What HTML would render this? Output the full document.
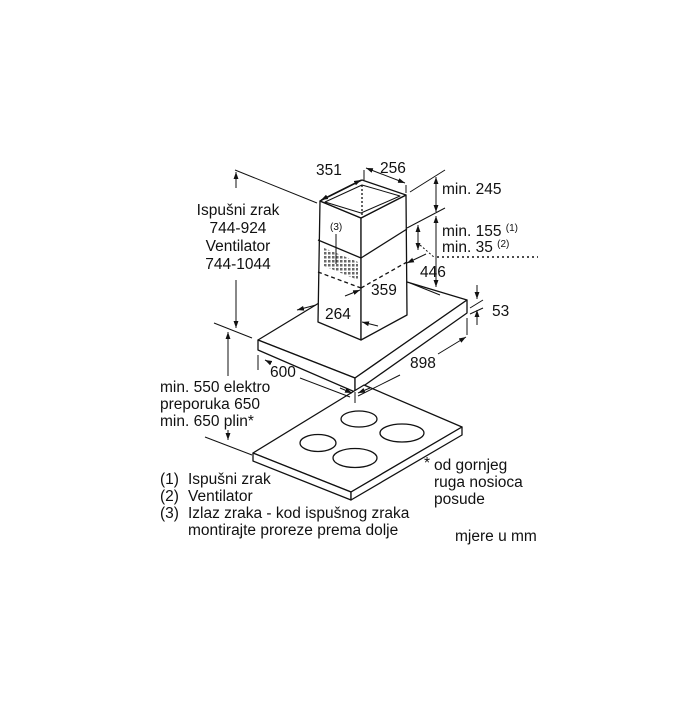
<!DOCTYPE html>
<html><head><meta charset="utf-8"><style>
body{margin:0;background:#fff;width:700px;height:700px;overflow:hidden}
svg text{font-family:"Liberation Sans",Arial,sans-serif;font-size:15.5px;fill:#111}
</style></head><body>
<svg width="700" height="700" viewBox="0 0 700 700" xmlns="http://www.w3.org/2000/svg">
<defs><marker id="a" viewBox="0 0 10 10" refX="10" refY="5" markerWidth="7" markerHeight="7" orient="auto-start-reverse"><path d="M0,1.5 L10,5 L0,8.5z" fill="#111"/></marker>
<pattern id="g" width="4" height="4" patternUnits="userSpaceOnUse"><rect width="4" height="4" fill="#fff"/><rect width="2.5" height="2.5" fill="#444"/></pattern></defs>
<g stroke="#111" stroke-width="1.3" fill="#fff" stroke-linejoin="round">
<polygon points="258,340 355,378 467,300 407,282 370,272 258,340"/>
<polygon points="258,340 355,378 355,392 258,350"/>
<polygon points="355,378 467,300 467,313 355,392"/>
<polygon points="320,201 361,218 361,340 318,322"/>
<polygon points="361,218 406,195 407,315 361,340"/>
<polygon points="320,201 362,180 406,195 361,218" fill="#fff"/>
<polygon points="325,202 362,185 400,196 361,213" fill="none" stroke-width="1"/>
<line x1="362" y1="185" x2="362" y2="215" stroke-dasharray="2,2"/>
<line x1="318" y1="240" x2="361" y2="258"/>
<line x1="361" y1="258" x2="407" y2="229"/>
<line x1="318" y1="272" x2="361" y2="288" stroke-dasharray="4,3"/>
<line x1="361" y1="288" x2="407" y2="262" stroke-dasharray="4,3"/>
<polygon points="253,453 351,492 462,427 364,385"/>
<polygon points="253,453 351,492 351,500 253,461"/>
<polygon points="351,492 462,427 462,435 351,500"/>
<ellipse cx="359" cy="419" rx="18" ry="8"/>
<ellipse cx="402" cy="433" rx="22" ry="9"/>
<ellipse cx="318" cy="443" rx="18" ry="8.5"/>
<ellipse cx="355" cy="458" rx="22" ry="9.5"/>
</g>
<polygon points="324,248 358,262 358,280 324,266" fill="url(#g)" opacity="0.8"/>
<g stroke="#111" stroke-width="1" fill="none">
<line x1="336" y1="234" x2="336" y2="264"/>
<line x1="235" y1="170" x2="317" y2="203"/>
<line x1="236" y1="172" x2="236" y2="188" marker-start="url(#a)"/>
<line x1="236" y1="280" x2="236" y2="328" marker-end="url(#a)"/>
<line x1="214" y1="323" x2="252" y2="338"/>
<line x1="228" y1="332" x2="228" y2="376" marker-start="url(#a)"/>
<line x1="205" y1="437" x2="252" y2="455"/>
<line x1="228" y1="430" x2="228" y2="440" marker-end="url(#a)"/>
<line x1="321" y1="200" x2="361" y2="180" marker-start="url(#a)" marker-end="url(#a)"/>
<line x1="364" y1="170" x2="364" y2="180"/>
<line x1="366" y1="168" x2="405" y2="183" marker-start="url(#a)" marker-end="url(#a)"/>
<line x1="406" y1="185" x2="406" y2="193"/>
<line x1="410" y1="192" x2="445" y2="170"/>
<line x1="436" y1="177" x2="436" y2="212" marker-start="url(#a)" marker-end="url(#a)"/>
<line x1="407" y1="228" x2="445" y2="208"/>
<line x1="436" y1="216" x2="436" y2="287" marker-start="url(#a)" marker-end="url(#a)"/>
<line x1="418" y1="225" x2="418" y2="250" marker-start="url(#a)" marker-end="url(#a)"/>
<line x1="420" y1="245" x2="435" y2="258" stroke-dasharray="2,2"/>
<line x1="437" y1="257" x2="538" y2="257" stroke-dasharray="2,3" stroke-width="1.5"/>
<line x1="407" y1="263" x2="426" y2="254" marker-start="url(#a)"/>
<line x1="345" y1="296" x2="360" y2="290" marker-end="url(#a)"/>
<line x1="297" y1="310" x2="316" y2="305" marker-start="url(#a)"/>
<line x1="362" y1="322" x2="378" y2="326" marker-start="url(#a)"/>
<line x1="410" y1="283" x2="440" y2="295"/>
<line x1="470" y1="308" x2="483" y2="300"/>
<line x1="470" y1="314" x2="483" y2="308"/>
<line x1="477" y1="285" x2="477" y2="299" marker-end="url(#a)"/>
<line x1="477" y1="325" x2="477" y2="310" marker-end="url(#a)"/>
<line x1="258" y1="355" x2="258" y2="370"/>
<line x1="269" y1="362" x2="265" y2="360" marker-end="url(#a)"/>
<line x1="300" y1="378" x2="350" y2="397"/>
<line x1="355" y1="392" x2="355" y2="403"/>
<line x1="358" y1="396" x2="400" y2="375"/>
<line x1="438" y1="354" x2="466" y2="337" marker-end="url(#a)"/>
<line x1="467" y1="318" x2="467" y2="335"/>
<line x1="340" y1="388" x2="352" y2="393" marker-end="url(#a)"/>
<line x1="370" y1="388" x2="358" y2="393" marker-end="url(#a)"/>
</g>
<g>
<text x="316" y="175">351</text>
<text x="380" y="173">256</text>
<text x="442" y="194">min. 245</text>
<text x="442" y="236">min. 155 <tspan style="font-size:10px" dy="-5">(1)</tspan></text>
<text x="442" y="252">min. 35 <tspan style="font-size:10px" dy="-5">(2)</tspan></text>
<text x="420" y="277">446</text>
<text x="371" y="295">359</text>
<text x="325" y="319">264</text>
<text x="492" y="316">53</text>
<text x="410" y="368">898</text>
<text x="270" y="377">600</text>
<text x="330" y="230" style="font-size:10px">(3)</text>
<text x="238" y="215" text-anchor="middle">Ispušni zrak</text>
<text x="238" y="233" text-anchor="middle">744-924</text>
<text x="238" y="251" text-anchor="middle">Ventilator</text>
<text x="238" y="269" text-anchor="middle">744-1044</text>
<text x="160" y="392">min. 550 elektro</text>
<text x="160" y="409">preporuka 650</text>
<text x="160" y="426">min. 650 plin*</text>
<text x="160" y="484">(1)<tspan x="188">Ispušni zrak</tspan></text>
<text x="160" y="501">(2)<tspan x="188">Ventilator</tspan></text>
<text x="160" y="518">(3)<tspan x="188">Izlaz zraka - kod ispušnog zraka</tspan></text>
<text x="188" y="535">montirajte proreze prema dolje</text>
<text x="424" y="468">*</text>
<text x="434" y="470">od gornjeg</text>
<text x="434" y="487">ruga nosioca</text>
<text x="434" y="504">posude</text>
<text x="455" y="541">mjere u mm</text>
</g>
</svg>
</body></html>
